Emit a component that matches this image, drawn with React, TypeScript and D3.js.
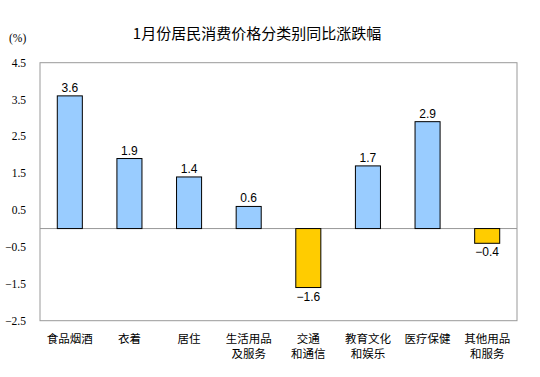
import React from "react";
import * as d3 from "d3";

const categories = ["食品烟酒", "衣着", "居住", "生活用品\n及服务", "交通\n和通信", "教育文化\n和娱乐", "医疗保健", "其他用品\n和服务"];
const values = [3.6, 1.9, 1.4, 0.6, -1.6, 1.7, 2.9, -0.4];
const yTicks = [4.5, 3.5, 2.5, 1.5, 0.5, -0.5, -1.5, -2.5];
const title = "1月份居民消费价格分类别同比涨跌幅";

export default function App() {
  const W = 540, H = 377;
  const left = 40, right = 517, top = 62.7, bottom = 320.7;
  const x = d3.scaleBand<string>().domain(categories).range([left, right]).paddingInner(0.58).paddingOuter(0.29);
  const y = d3.scaleLinear().domain([-2.5, 4.5]).range([bottom, top]);
  const cjk = "'SimSun','Noto Sans CJK SC',sans-serif";
  return (
    <svg width={W} height={H} style={{ position: "absolute", left: 0, top: 0, background: "#fff" }}>
      <text x={257} y={38.5} textAnchor="middle" fontFamily={cjk} fontSize={15} fill="#000">{title}</text>
      <text x={9} y={42} fontFamily="'Liberation Serif',serif" fontSize={11.5}>(%)</text>
      <rect x={left} y={top} width={right - left} height={bottom - top} fill="none" stroke="#999" strokeWidth={1} />
      {yTicks.map((t) => (
        <text key={t} x={26} y={y(t) + 4} textAnchor="end" fontFamily="'Liberation Serif',serif" fontSize={11.5}>{d3.format(".1f")(t)}</text>
      ))}
      <line x1={left} x2={right} y1={y(0)} y2={y(0)} stroke="#999" strokeWidth={1} />
      {categories.map((c, i) => {
        const v = values[i];
        const bx = x(c)!;
        const bw = x.bandwidth();
        const y0 = y(Math.max(0, v)), y1 = y(Math.min(0, v));
        return (
          <g key={c}>
            <rect x={bx} y={y0} width={bw} height={y1 - y0} fill={v >= 0 ? "#99CCFF" : "#FFCC00"} stroke="#000" strokeWidth={1} />
            <text x={bx + bw / 2} y={v >= 0 ? y0 - 4 : y1 + 13} textAnchor="middle" fontFamily="'Liberation Sans',Arial,sans-serif" fontSize={12}>{d3.format(".1f")(v)}</text>
          </g>
        );
      })}
      {categories.map((c) => {
        const lines = c.split("\n");
        const cx = x(c)! + x.bandwidth() / 2;
        return (
          <text key={"l" + c} textAnchor="middle" fontFamily={cjk} fontSize={11.5}>
            {lines.map((ln, j) => (
              <tspan key={j} x={cx} y={343 + j * 15}>{ln}</tspan>
            ))}
          </text>
        );
      })}
    </svg>
  );
}
